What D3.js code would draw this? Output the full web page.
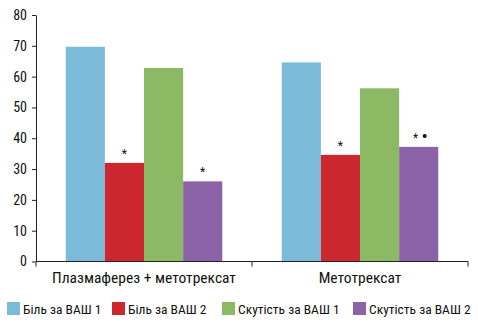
<!DOCTYPE html>
<html><head><meta charset="utf-8">
<script src="https://cdn.jsdelivr.net/npm/d3@7"></script>
<style>body{margin:0;background:#fff}svg{display:block}text{font-family:"Liberation Sans Narrow","Arial Narrow","Roboto Condensed","Liberation Sans",sans-serif;fill:#111}</style>
</head><body><svg id="c" width="478" height="325"></svg>
<script>
const categories = ["Плазмаферез + метотрексат", "Метотрексат"];
const series = ["Біль за ВАШ 1", "Біль за ВАШ 2", "Скутість за ВАШ 1", "Скутість за ВАШ 2"];
const values = [
  [69.7, 32.0, 62.8, 26.0],
  [64.6, 34.6, 56.2, 37.2]
];
const marks = [
  ["", "*", "", "*"],
  ["", "*", "", "*●"]
];
const yTicks = [0, 10, 20, 30, 40, 50, 60, 70, 80];
const colors = ["#7bbbd9", "#cc262e", "#8cb963", "#8c62a8"];

const svg = d3.select("#c");
const m = {l: 36, r: 10, t: 15, b: 64};
const W = 478, H = 325;
const x0 = d3.scaleBand().domain(categories).range([m.l, W - m.r]).paddingInner(0).paddingOuter(0);
const x1 = d3.scaleBand().domain(series).range([0, x0.bandwidth()]).paddingInner(0).paddingOuter(0.76);
const y = d3.scaleLinear().domain([0, 80]).range([H - m.b + 0.5, m.t]);

const g = svg.append("g");
categories.forEach((c, i) => {
  series.forEach((s, j) => {
    const v = values[i][j];
    const cx = x0(c) + x1(s) + x1.bandwidth() / 2;
    g.append("rect").attr("x", x0(c) + x1(s)).attr("y", y(v))
      .attr("width", x1.bandwidth()).attr("height", y(0) - y(v))
      .attr("fill", colors[j]);
    const mk = marks[i][j];
    if (mk) {
      const two = mk.length > 1;
      g.append("text").attr("x", cx - (two ? 3 : 0))
        .attr("y", y(v) - 5).attr("text-anchor", "middle")
        .style("font-size", "12px").text("*");
      if (two) g.append("circle").attr("cx", cx + 6).attr("cy", y(v) - 11).attr("r", 2).attr("fill", "#111");
    }
  });
});

const ya = svg.append("g").attr("transform", `translate(${m.l},0)`)
  .call(d3.axisLeft(y).tickValues(yTicks).tickSize(4).tickSizeOuter(0));
ya.select(".domain").attr("stroke", "#222");
ya.selectAll(".tick line").attr("stroke", "#222");
ya.selectAll(".tick text").attr("x", -9).style("font-size", "14px").attr("fill", "#111");

const xa = svg.append("g").attr("transform", `translate(0,${y(0)})`);
xa.append("line").attr("x1", m.l).attr("x2", W - m.r).attr("y1", 0).attr("y2", 0).attr("stroke", "#222");
const bounds = [m.l, ...categories.map(c => x0(c) + x0.bandwidth())];
bounds.forEach(b => xa.append("line").attr("x1", b).attr("x2", b).attr("y1", 0).attr("y2", 5).attr("stroke", "#222"));
categories.forEach(c => xa.append("text").attr("x", x0(c) + x0.bandwidth() / 2).attr("y", 21)
  .attr("text-anchor", "middle").style("font-size", "15.5px").text(c));

const legX = [7, 112, 222, 353];
series.forEach((s, j) => {
  const lg = svg.append("g").attr("transform", `translate(${legX[j]},302)`);
  lg.append("rect").attr("width", 13).attr("height", 13).attr("fill", colors[j]);
  lg.append("text").attr("x", 16).attr("y", 11.5).style("font-size", "13.5px").text(s);
});
</script></body></html>
